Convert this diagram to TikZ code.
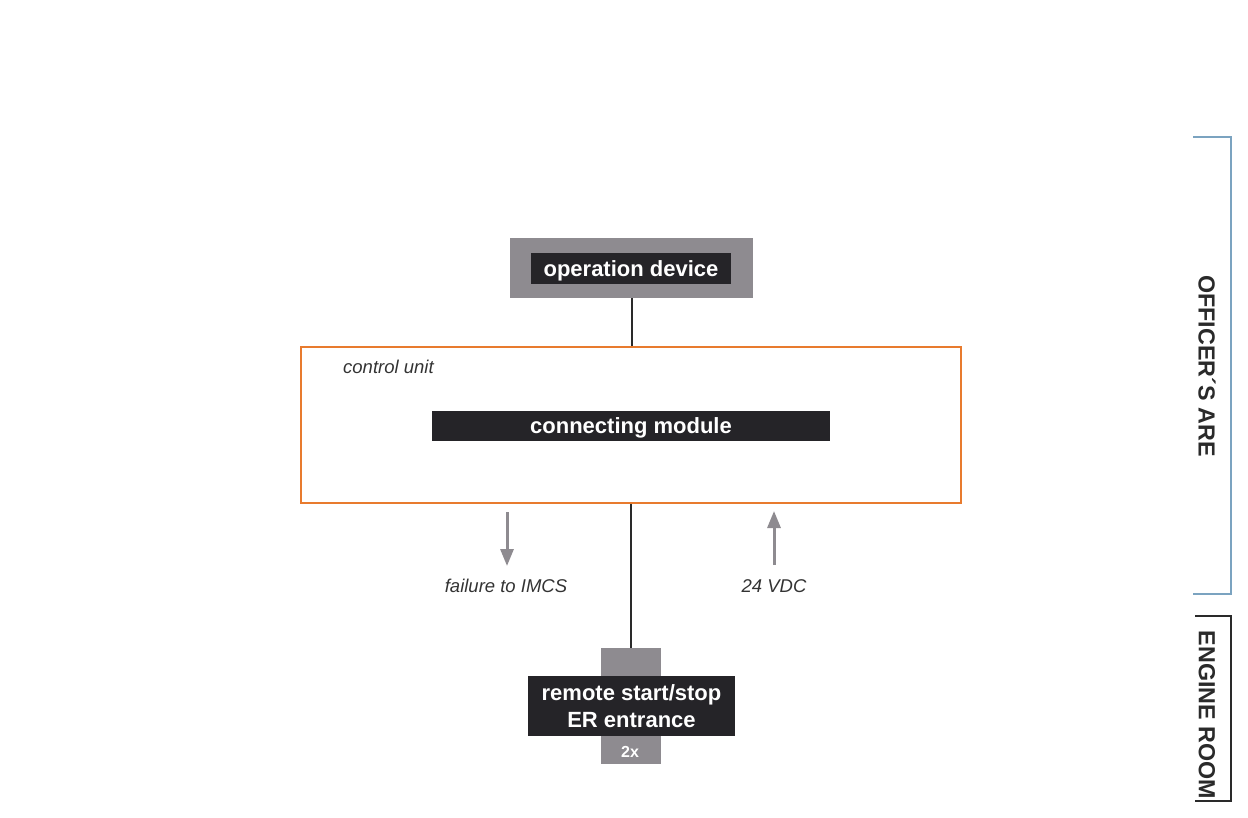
\documentclass[tikz,border=0pt]{standalone}
\usepackage{fontspec}
\setmainfont{Liberation Sans}
\usetikzlibrary{arrows.meta}
\definecolor{boxgray}{HTML}{8E8B90}
\definecolor{boxdark}{HTML}{252428}
\definecolor{ctrlorange}{HTML}{E87B2E}
\definecolor{brblue}{HTML}{7BA3C0}
\definecolor{linedark}{HTML}{2A2A2A}
\definecolor{txtgray}{HTML}{333333}
\tikzset{
  graybox/.style={fill=boxgray, draw=none, minimum width=#1, inner sep=0pt},
  darkbox/.style={fill=boxdark, draw=none, text=white, inner sep=0pt,
    font=\fontsize{22}{27}\selectfont\bfseries, align=center},
  onebox/.style={darkbox, text height=18pt, text depth=2.6pt},
  conn/.style={draw=linedark, line width=2pt},
  sigarrow/.style={draw=boxgray, line width=3pt, -{Triangle[width=13pt,length=17pt]}},
  itlabel/.style={text=txtgray, font=\fontsize{18.5}{22}\selectfont\itshape, inner sep=0pt},
  vlabel/.style={text=linedark, font=\fontsize{23.3}{26}\selectfont\bfseries, rotate=-90, inner sep=0pt},
  bracket/.style={line width=2pt},
}
\begin{document}
\begin{tikzpicture}[x=1pt,y=-1pt]
\useasboundingbox (0,0) rectangle (1248,817);
% operation device
\node[graybox=243pt, minimum height=60pt] (opg) at (631.5,268) {};
\node[onebox, minimum width=200pt, minimum height=31pt] (op) at (631,268.8) {operation device};
% control unit
\node[draw=ctrlorange, line width=2pt, minimum width=660pt, minimum height=156pt, inner sep=0pt] (cu) at (631,425) {};
\node[itlabel, anchor=west] (cul) at (343,367) {control unit};
\node[onebox, minimum width=398pt, minimum height=30pt] (cm) at (631,425.5) {connecting module};
% remote start/stop
\node[graybox=60pt, minimum height=116pt] (rg) at (631,706) {};
\node[darkbox, minimum width=207pt, minimum height=60pt] (rs) at (631.5,706) {remote start/stop\\ER entrance};
\node[text=white, font=\fontsize{16}{18}\selectfont\bfseries, inner sep=0pt] (two) at (630,751.5) {2x};
% connectors
\draw[conn] (opg.south) -- (opg.south |- cu.north);
\draw[conn] (cu.south -| rg.north) -- (rg.north);
% signal arrows
\coordinate (f1) at (507,512);
\coordinate (f2) at (507,566);
\draw[sigarrow] (f1) -- (f2);
\node[itlabel] (fl) at (506,586) {failure to IMCS};
\coordinate (v1) at (774,565);
\coordinate (v2) at (774,511);
\draw[sigarrow] (v1) -- (v2);
\node[itlabel] (vl) at (774,586) {24 VDC};
% brackets
\coordinate (b1) at (1193,137);
\coordinate (b2) at (1231,137);
\coordinate (b3) at (1231,594);
\coordinate (b4) at (1193,594);
\draw[bracket, draw=brblue] (b1) -- (b2) -- (b3) -- (b4);
\node[vlabel] (oa) at (1207,366) {OFFICER´S ARE};
\coordinate (c1) at (1195,616);
\coordinate (c2) at (1231,616);
\coordinate (c3) at (1231,801);
\coordinate (c4) at (1195,801);
\draw[bracket, draw=linedark] (c1) -- (c2) -- (c3) -- (c4);
\node[vlabel] (er) at (1207,715) {ENGINE ROOM};
\end{tikzpicture}
\end{document}
